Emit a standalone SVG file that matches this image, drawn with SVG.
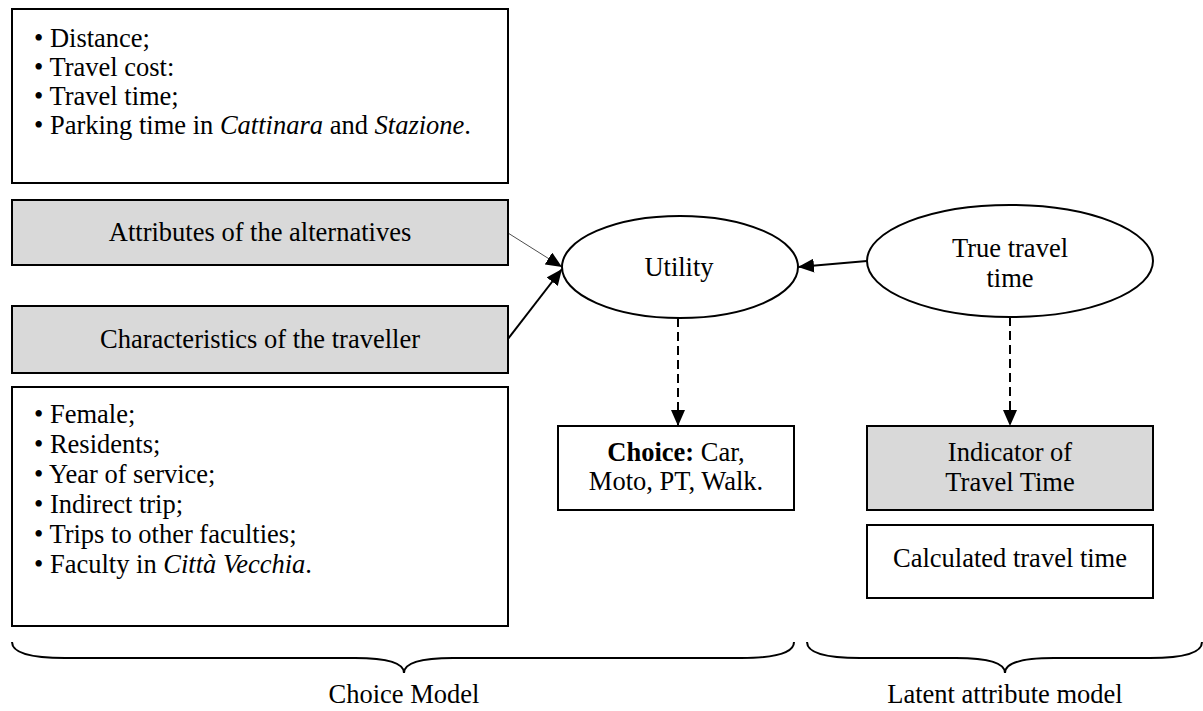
<svg xmlns="http://www.w3.org/2000/svg" width="1203" height="711" viewBox="0 0 1203 711" font-family="Liberation Serif, Times New Roman, serif">
<style>
text{font-size:26.5px;fill:#000}
.box{fill:#fff;stroke:#000;stroke-width:2}
.gray{fill:#d9d9d9;stroke:#000;stroke-width:2}
.ell{fill:#fff;stroke:#000;stroke-width:2}
.c{text-anchor:middle}
.conn{stroke:#000;fill:none}
.dash{stroke-dasharray:9 5;stroke-width:2}
.brace{fill:none;stroke:#000;stroke-width:2}
</style>
<defs>
<marker id="ah" viewBox="0 0 16 14" refX="16" refY="7" markerWidth="16" markerHeight="14" markerUnits="userSpaceOnUse" orient="auto">
<path d="M0,0 L16,7 L0,14 Z" fill="#000"/>
</marker>
</defs>
<rect width="1203" height="711" fill="#fff"/>
<g id="attr-list">
<rect class="box" x="12" y="9" width="496" height="174"/>
<text x="34" y="47">• Distance;</text>
<text x="34" y="76">• Travel cost:</text>
<text x="34" y="105">• Travel time;</text>
<text x="34" y="134">• Parking time in <tspan font-style="italic">Cattinara</tspan> and <tspan font-style="italic">Stazione</tspan>.</text>
</g>
<g id="attributes">
<rect class="gray" x="12" y="200" width="496" height="65"/>
<text class="c" x="260" y="241">Attributes of the alternatives</text>
</g>
<g id="characteristics">
<rect class="gray" x="12" y="306" width="496" height="67"/>
<text class="c" x="260" y="348">Characteristics of the traveller</text>
</g>
<g id="char-list">
<rect class="box" x="12" y="387" width="496" height="239"/>
<text x="34" y="423">• Female;</text>
<text x="34" y="453">• Residents;</text>
<text x="34" y="483">• Year of service;</text>
<text x="34" y="513">• Indirect trip;</text>
<text x="34" y="543">• Trips to other faculties;</text>
<text x="34" y="573">• Faculty in <tspan font-style="italic">Città Vecchia</tspan>.</text>
</g>
<g id="utility">
<ellipse class="ell" cx="680" cy="267" rx="118" ry="51"/>
<text class="c" x="679" y="276">Utility</text>
</g>
<g id="true-time">
<ellipse class="ell" cx="1010" cy="261" rx="143" ry="56"/>
<text class="c" x="1010" y="257">True travel</text>
<text class="c" x="1010" y="287">time</text>
</g>
<g id="choice">
<rect class="box" x="558" y="426" width="236" height="84"/>
<text class="c" x="676" y="461"><tspan font-weight="bold">Choice:</tspan> Car,</text>
<text class="c" x="676" y="490">Moto, PT, Walk.</text>
</g>
<g id="indicator">
<rect class="gray" x="867" y="426" width="286" height="84"/>
<text class="c" x="1010" y="461">Indicator of</text>
<text class="c" x="1010" y="491">Travel Time</text>
</g>
<g id="calculated">
<rect class="box" x="867" y="525" width="286" height="73"/>
<text class="c" x="1010" y="567">Calculated travel time</text>
</g>
<g id="connectors">
<line class="conn" x1="508" y1="233" x2="562" y2="267" stroke-width="0.7" marker-end="url(#ah)"/>
<line class="conn" x1="508" y1="339" x2="562" y2="269" stroke-width="2" marker-end="url(#ah)"/>
<line class="conn" x1="867" y1="261" x2="798" y2="267" stroke-width="2" marker-end="url(#ah)"/>
<line class="conn dash" x1="678" y1="318" x2="678" y2="426" marker-end="url(#ah)"/>
<line class="conn dash" x1="1010" y1="317" x2="1010" y2="426" marker-end="url(#ah)"/>
</g>
<g id="braces">
<path class="brace" d="M12,642 C12,653 30,658 65,658 L355,658 C385,658 404,662 404,673 C404,662 423,658 453,658 L741,658 C776,658 794,653 794,642"/>
<path class="brace" d="M807,642 C807,653 825,658 860,658 L956,658 C986,658 1005,662 1005,673 C1005,662 1024,658 1054,658 L1150,658 C1185,658 1202,653 1202,642"/>
<text class="c" x="404" y="703">Choice Model</text>
<text class="c" x="1005" y="703">Latent attribute model</text>
</g>
</svg>
